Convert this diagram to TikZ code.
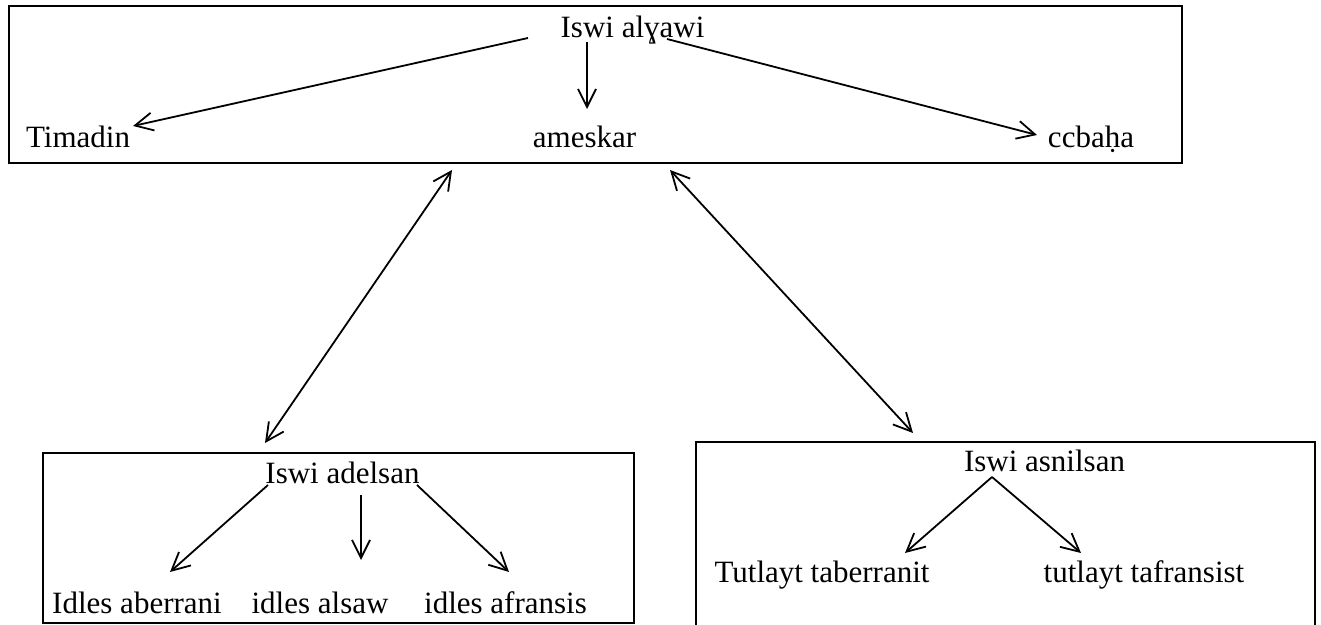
\documentclass[tikz,border=0pt]{standalone}
\usepackage{fontspec}
\setmainfont{Liberation Serif}
\usetikzlibrary{arrows.meta}
\tikzset{
  word/.style={
    anchor=base,
    inner sep=0pt,
    font=\fontsize{15.5}{18}\selectfont
  },
  frame/.style={line width=1.3pt},
  arrow/.style={-{Straight Barb[length=9pt,width=9pt]}, line width=0.9pt},
  twoway/.style={{Straight Barb[length=9pt,width=9pt]}-{Straight Barb[length=9pt,width=9pt]}, line width=0.9pt}
}

\begin{document}
\begin{tikzpicture}[x=0.5pt, y=-0.5pt]
\useasboundingbox (0,0) rectangle (1321,625);

% frames
\draw[frame] (9,6) rectangle (1182,163);
\draw[frame] (43,453) rectangle (634,623);
\draw[frame] (696,625) |- (1315,442) -- (1315,625);

% top box
\node[word] (alghawi) at (632.5,38) {Iswi alɣawi};
\node[word] (timadin) at (78,148) {Timadin};
\node[word] (ameskar) at (584.5,148) {ameskar};
\node[word] (ccbaha) at (1091,148) {ccbaḥa};

% left box
\node[word] (adelsan) at (342.5,483) {Iswi adelsan};
\node[word] (aberrani) at (137,613) {Idles aberrani};
\node[word] (alsaw) at (320,613) {idles alsaw};
\node[word] (afransis) at (505.5,613) {idles afransis};

% right box
\node[word] (asnilsan) at (1044.5,471) {Iswi asnilsan};
\node[word] (taberranit) at (822,582) {Tutlayt taberranit};
\node[word] (tafransist) at (1144,582) {tutlayt tafransist};

\draw[arrow] ([shift={(-104.5,0)}]alghawi.base) -- ([shift={(55,-22)}]timadin.base);
\draw[arrow] ([shift={(-45.5,4)}]alghawi.base) -- ([shift={(2.5,-39)}]ameskar.base);
\draw[arrow] ([shift={(34.5,1)}]alghawi.base) -- ([shift={(-54,-13)}]ccbaha.base);

\draw[twoway] ([shift={(-132.5,22)}]ameskar.base) -- ([shift={(-77.5,-40)}]adelsan.base);
\draw[twoway] ([shift={(85.5,22)}]ameskar.base) -- ([shift={(-131.5,-38)}]asnilsan.base);

\draw[arrow] ([shift={(-74.5,2)}]adelsan.base) -- ([shift={(33,-41)}]aberrani.base);
\draw[arrow] ([shift={(18.5,12)}]adelsan.base) -- ([shift={(41,-53)}]alsaw.base);
\draw[arrow] ([shift={(74.5,2)}]adelsan.base) -- ([shift={(3.5,-41)}]afransis.base);

\draw[arrow] ([shift={(-52.5,6)}]asnilsan.base) -- ([shift={(83,-29)}]taberranit.base);
\draw[arrow] ([shift={(-52.5,6)}]asnilsan.base) -- ([shift={(-63,-29)}]tafransist.base);

\end{tikzpicture}
\end{document}
